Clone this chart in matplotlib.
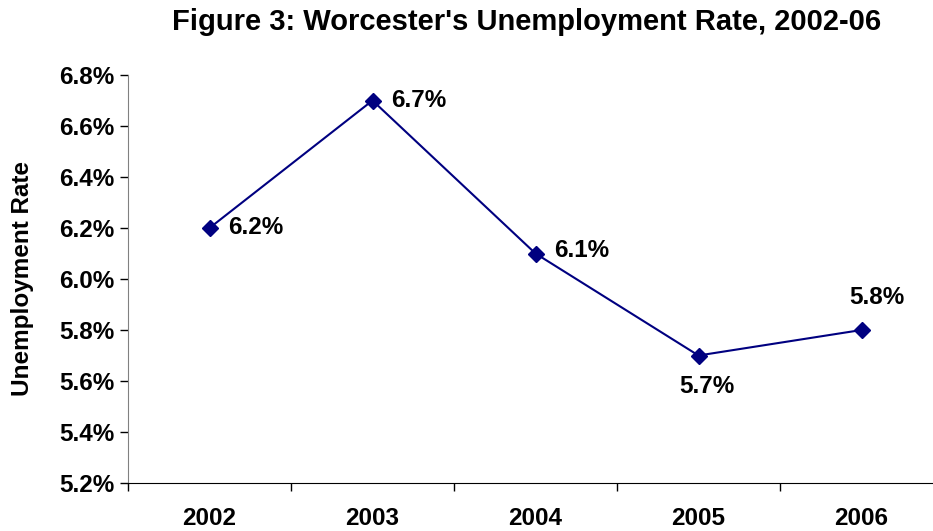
import matplotlib.pyplot as plt
from matplotlib.ticker import FixedLocator

plt.rcParams['font.family'] = ['Liberation Sans', 'DejaVu Sans']
plt.rcParams['font.weight'] = 'bold'

years = ['2002', '2003', '2004', '2005', '2006']
rates = [6.2, 6.7, 6.1, 5.7, 5.8]
y_ticks = [5.2, 5.4, 5.6, 5.8, 6.0, 6.2, 6.4, 6.6, 6.8]

# label placement per point: (dx px, dy px, ha, va)
label_pos = [(19, 0, 'left', 'center'),
             (19, 0, 'left', 'center'),
             (19, 3, 'left', 'center'),
             (8, -31, 'center', 'center'),
             (15, 33, 'center', 'center')]

fig = plt.figure(figsize=(9.33, 5.31), dpi=100)
W, H = 933, 531
ax = fig.add_axes([128 / W, 1 - 483 / H, (943 - 128) / W, (483 - 75) / H])

x = list(range(len(years)))
ax.plot(x, rates, color='#000080', lw=1.5, marker='D', ms=8.5,
        markerfacecolor='#000080', markeredgecolor='#000080', clip_on=False)

for xi, r, (dx, dy, ha, va) in zip(x, rates, label_pos):
    ax.annotate(f'{r:.1f}%', (xi, r), xytext=(dx * 0.72, dy * 0.72),
                textcoords='offset points', ha=ha, va=va,
                fontsize=17.5, fontweight='bold', color='black')

ax.set_xlim(-0.5, 4.5)
ax.set_ylim(5.2, 6.8)
ax.set_yticks(y_ticks)
ax.set_yticklabels([f'{t:.1f}%' for t in y_ticks])
ax.set_xticks(x)
ax.set_xticklabels(years)
ax.xaxis.set_minor_locator(FixedLocator([-0.5, 0.5, 1.5, 2.5, 3.5, 4.5]))
ax.tick_params(axis='x', which='major', length=0, pad=17, labelsize=17.5)
ax.tick_params(axis='x', which='minor', length=6, direction='out', width=1)
ax.tick_params(axis='y', length=6, direction='out', width=1, labelsize=17.5, pad=4)

for side in ['top', 'right']:
    ax.spines[side].set_visible(False)
ax.spines['left'].set_color('#808080')
ax.spines['bottom'].set_color('black')

ax.set_ylabel('Unemployment Rate', fontsize=17.5, fontweight='bold', labelpad=18)
fig.text(527 / W, 1 - 22 / H, "Figure 3: Worcester's Unemployment Rate, 2002-06",
         ha='center', va='center', fontsize=21, fontweight='bold')

fig.savefig('out.png', dpi=100)
